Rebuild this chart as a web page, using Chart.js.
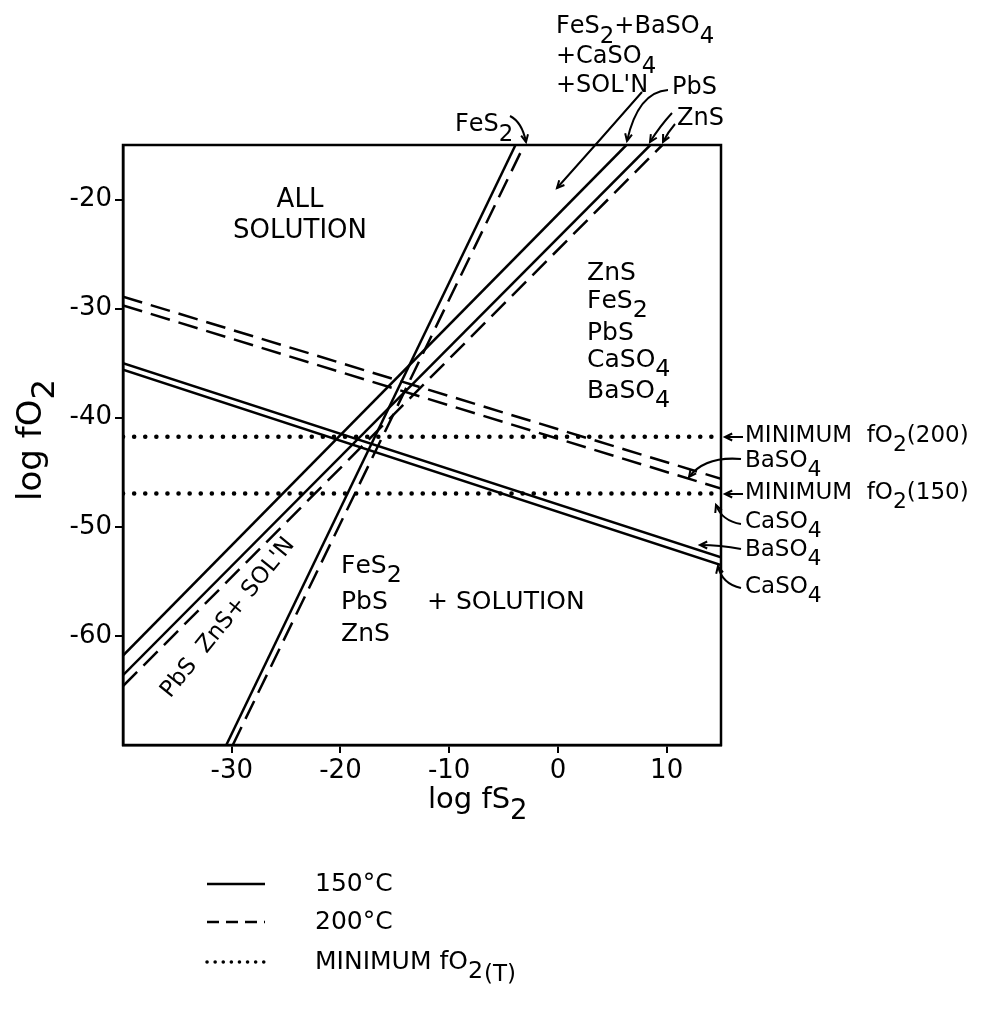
<!DOCTYPE html>
<html lang="en">
<head>
<meta charset="UTF-8">
<title>log fO2 vs log fS2</title>
<script src="https://cdn.jsdelivr.net/npm/chart.js"></script>
<style>
  body { margin: 0; background: #fff; }
  canvas { display: block; }
</style>
</head>
<body>
<canvas id="phaseChart" width="982" height="1010"></canvas>
<script>
// tick labels
const xTicks = [-30, -20, -10, 0, 10];
const yTicks = [-20, -30, -40, -50, -60];

// boundary end points, as [log fS2, log fO2]
const fes2At150 = [[-30.5, -70], [-3.9, -15]];
const fes2At200 = [[-29.9, -70], [-3.1, -15]];
const pbsAt150 = [[-40, -61.8], [6.3, -15]];
const znsAt150 = [[-40, -63.6], [8.5, -15]];
const znsAt200 = [[-40, -64.6], [9.6, -15]];
const baso4At150 = [[-40, -35.0], [15, -52.8]];
const caso4At150 = [[-40, -35.6], [15, -53.5]];
const baso4At200 = [[-40, -28.9], [15, -45.6]];
const caso4At200 = [[-40, -29.7], [15, -46.5]];

// minimum fO2 levels
const minFO2At200 = -41.75;
const minFO2At150 = -46.95;

const toPts = arr => arr.map(p => ({ x: p[0], y: p[1] }));
const flat = v => [{ x: -40, y: v }, { x: 15, y: v }];

const solid = [];
const dashed = [20, 9];
const dotted = [0.1, 11];

function line(label, pts, dash, width) {
    return {
        label: label,
        data: pts,
        showLine: true,
        pointRadius: 0,
        borderColor: '#000',
        borderWidth: width || 2.5,
        borderDash: dash,
        borderCapStyle: dash === dotted ? 'round' : 'butt',
        fill: false
    };
}

// rich text: '_' marks the next char as a subscript
function rich(ctx, str, x, y, size, align) {
    const segs = [];
    for (let i = 0; i < str.length; i++) {
        if (str[i] === '_') { segs.push({ t: str[i + 1], sub: true }); i++; }
        else segs.push({ t: str[i], sub: false });
    }
    const font = s => s + 'px "DejaVu Sans"';
    let w = 0;
    segs.forEach(s => {
        ctx.font = font(s.sub ? size * 0.95 : size);
        s.w = ctx.measureText(s.t).width;
        w += s.w;
    });
    let cx = align === 'center' ? x - w / 2 : x;
    segs.forEach(s => {
        ctx.font = font(s.sub ? size * 0.95 : size);
        ctx.fillText(s.t, cx, s.sub ? y + size * 0.4 : y);
        cx += s.w;
    });
}

function arrow(ctx, x0, y0, cx, cy, x1, y1) {
    ctx.beginPath();
    ctx.moveTo(x0, y0);
    ctx.quadraticCurveTo(cx, cy, x1, y1);
    ctx.stroke();
    const a = Math.atan2(y1 - cy, x1 - cx);
    const h = 8;
    ctx.beginPath();
    ctx.moveTo(x1 - h * Math.cos(a - 0.45), y1 - h * Math.sin(a - 0.45));
    ctx.lineTo(x1, y1);
    ctx.lineTo(x1 - h * Math.cos(a + 0.45), y1 - h * Math.sin(a + 0.45));
    ctx.stroke();
}

const annotate = {
    id: 'annotate',
    afterDraw(chart) {
        const ctx = chart.ctx;
        const a = chart.chartArea;
        ctx.save();
        ctx.strokeStyle = '#000';
        ctx.fillStyle = '#000';
        ctx.lineWidth = 2.5;
        ctx.strokeRect(a.left, a.top, a.right - a.left, a.bottom - a.top);

        ctx.textBaseline = 'middle';
        ctx.textAlign = 'left';
        // axis titles
        rich(ctx, 'log fS_2', 428, 800, 29);
        ctx.save();
        ctx.translate(32, 440);
        ctx.rotate(-Math.PI / 2);
        rich(ctx, 'log fO_2', 0, 0, 34, 'center');
        ctx.restore();

        // top labels
        rich(ctx, 'FeS_2+BaSO_4', 556, 27, 24);
        rich(ctx, '+CaSO_4', 556, 57, 24);
        rich(ctx, "+SOL'N", 556, 86, 24);
        rich(ctx, 'PbS', 672, 88, 24);
        rich(ctx, 'ZnS', 677, 119, 24);
        rich(ctx, 'FeS_2', 455, 125, 24);
        // fields
        rich(ctx, 'ALL', 300, 200, 26, 'center');
        rich(ctx, 'SOLUTION', 300, 231, 26, 'center');
        rich(ctx, 'ZnS', 587, 273, 25);
        rich(ctx, 'FeS_2', 587, 301, 25);
        rich(ctx, 'PbS', 587, 333, 25);
        rich(ctx, 'CaSO_4', 587, 360, 25);
        rich(ctx, 'BaSO_4', 587, 391, 25);
        rich(ctx, 'FeS_2', 341, 566, 25);
        rich(ctx, 'PbS', 341, 602, 25);
        rich(ctx, 'ZnS', 341, 634, 25);
        rich(ctx, '+ SOLUTION', 427, 602, 25);
        // right side
        rich(ctx, 'MINIMUM  fO_2(200)', 745, 436, 23);
        rich(ctx, 'BaSO_4', 745, 461, 23);
        rich(ctx, 'MINIMUM  fO_2(150)', 745, 493, 23);
        rich(ctx, 'CaSO_4', 745, 522, 23);
        rich(ctx, 'BaSO_4', 745, 550, 23);
        rich(ctx, 'CaSO_4', 745, 587, 23);

        // rotated field label
        ctx.save();
        ctx.translate(228, 618);
        ctx.rotate(-51 * Math.PI / 180);
        rich(ctx, "PbS  ZnS+ SOL'N", 0, 0, 23, 'center');
        ctx.restore();

        // arrows
        ctx.lineWidth = 2;
        arrow(ctx, 642, 92, 600, 140, 557, 188);
        arrow(ctx, 668, 90, 638, 92, 627, 141);
        arrow(ctx, 672, 113, 660, 126, 650, 142);
        arrow(ctx, 675, 124, 668, 132, 663, 142);
        arrow(ctx, 510, 116, 522, 122, 526, 142);
        arrow(ctx, 743, 437, 734, 437, 725, 437);
        arrow(ctx, 743, 494, 734, 494, 725, 494);
        arrow(ctx, 741, 459, 705, 456, 689, 477);
        arrow(ctx, 741, 524, 722, 521, 716, 505);
        arrow(ctx, 741, 549, 720, 545, 700, 545);
        arrow(ctx, 741, 588, 722, 584, 718, 566);

        // legend
        const key = [
            { dash: [], y: 884, w: 2.5, cap: 'butt', text: '150°C' },
            { dash: [12, 7], y: 922, w: 2.5, cap: 'butt', text: '200°C' },
            { dash: [0.1, 8], y: 962, w: 3.5, cap: 'round', text: 'MINIMUM fO_2' }
        ];
        key.forEach(k => {
            ctx.save();
            ctx.setLineDash(k.dash);
            ctx.lineCap = k.cap;
            ctx.lineWidth = k.w;
            ctx.beginPath();
            ctx.moveTo(207, k.y);
            ctx.lineTo(265, k.y);
            ctx.stroke();
            ctx.restore();
            rich(ctx, k.text, 315, k.y, 25);
        });
        ctx.font = '23px "DejaVu Sans"';
        ctx.fillText('(T)', 484, 975);
        ctx.restore();
    }
};

const datasets = [
    line('FeS2 150°C', toPts(fes2At150), solid),
    line('FeS2 200°C', toPts(fes2At200), dashed),
    line('PbS 150°C', toPts(pbsAt150), solid),
    line('ZnS 150°C', toPts(znsAt150), solid),
    line('ZnS 200°C', toPts(znsAt200), dashed),
    line('BaSO4 150°C', toPts(baso4At150), solid),
    line('CaSO4 150°C', toPts(caso4At150), solid),
    line('BaSO4 200°C', toPts(baso4At200), dashed),
    line('CaSO4 200°C', toPts(caso4At200), dashed),
    line('Minimum fO2 (200)', flat(minFO2At200), dotted, 4.5),
    line('Minimum fO2 (150)', flat(minFO2At150), dotted, 4.5)
];

Chart.defaults.font.family = '"DejaVu Sans", sans-serif';
Chart.defaults.color = '#000';

const chart = new Chart(document.getElementById('phaseChart'), {
    type: 'scatter',
    data: { datasets: datasets },
    options: {
        responsive: false,
        animation: false,
        layout: { padding: { top: 145, right: 261, bottom: 185, left: 0 } },
        plugins: {
            legend: { display: false },
            tooltip: { enabled: false }
        },
        scales: {
            x: {
                type: 'linear',
                min: -40,
                max: 15,
                afterBuildTicks: s => { s.ticks = xTicks.map(v => ({ value: v })); },
                afterFit: s => { s.height = 80; },
                ticks: { color: '#000', font: { size: 26 }, padding: 3, maxRotation: 0, autoSkip: false },
                grid: { drawOnChartArea: false, drawTicks: true, tickLength: 8, color: '#000', lineWidth: 2 },
                border: { display: true, color: '#000', width: 2.5 }
            },
            y: {
                type: 'linear',
                min: -70,
                max: -15,
                afterBuildTicks: s => { s.ticks = yTicks.map(v => ({ value: v })); },
                afterFit: s => { s.width = 123; },
                ticks: { color: '#000', font: { size: 26 }, padding: 3, autoSkip: false },
                grid: { drawOnChartArea: false, drawTicks: true, tickLength: 8, color: '#000', lineWidth: 2 },
                border: { display: true, color: '#000', width: 2.5 }
            }
        }
    },
    plugins: [annotate]
});
</script>
</body>
</html>
